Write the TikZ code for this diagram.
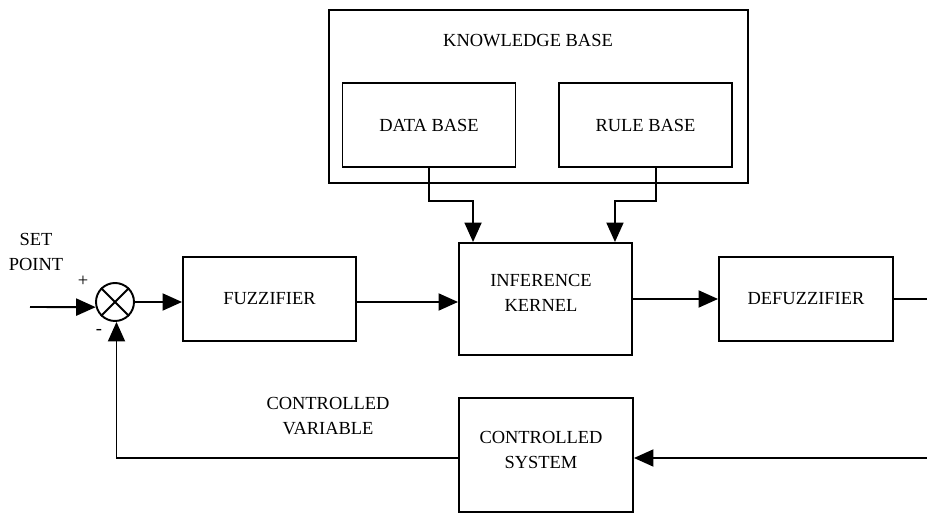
\documentclass[tikz,border=0pt]{standalone}
\usepackage{fontspec}
\setmainfont{Liberation Serif}
\usepackage{tikz}
\usetikzlibrary{arrows.meta,positioning,calc}

\tikzset{
  block/.style={draw,line width=1.1pt,minimum width=3.46cm,minimum height=1.68cm,align=center,inner sep=0pt},
  arr/.style={line width=1.1pt,-{Triangle[length=3.9mm,width=3.4mm]}},
  wire/.style={line width=1.1pt}
}

\begin{document}
\begin{tikzpicture}[font=\fontsize{10.5}{14}\selectfont]
  \useasboundingbox (0,0) rectangle (18.54,10.26);

  % Knowledge base
  \node[block,minimum width=8.38cm,minimum height=3.46cm] (kb) at (10.77,8.33) {};
  \node (kbl) at (10.56,9.44) {KNOWLEDGE BASE};
  \node[block] (data) at (8.58,7.76) {DATA BASE};
  \node[block] (rule) at (12.91,7.76) {RULE BASE};

  % Main loop
  \node[draw,line width=1.1pt,circle,minimum size=0.76cm,inner sep=0pt] (sum) at (2.30,4.22) {};
  \draw[line width=1.1pt] (sum.45) -- (sum.225) (sum.135) -- (sum.315);
  \node[block] (fuzz) at (5.39,4.28) {FUZZIFIER};
  \node[block,minimum height=2.24cm] (infer) at (10.91,4.28) {};
  \node (inftxt) at (10.82,4.40) [align=center] {INFERENCE\\KERNEL};
  \node[block,minimum width=3.48cm] (defuzz) at (16.12,4.28) {DEFUZZIFIER};
  \node[block,minimum width=3.48cm,minimum height=2.28cm] (plant) at (10.92,1.16) {};
  \node (planttxt) at (10.82,1.26) [align=center] {CONTROLLED\\SYSTEM};

  % Labels
  \node[align=center] (setp) at (0.72,5.22) {SET\\POINT};
  \node (plus) at (1.66,4.64) {+};
  \node (minus) at (1.98,3.62) {-};
  \node[align=center] (cvar) at (6.56,1.94) {CONTROLLED\\VARIABLE};

  % Free ends
  \coordinate (in) at (0.6,4.12);
  \coordinate (out) at (18.54,4.30);
  \coordinate (fb) at (18.54,1.10);

  % Connectors
  \draw[arr] (in) -- (sum.195);
  \draw[arr] (sum.east) -- (sum.east -| fuzz.west);
  \draw[arr] (fuzz.east |- sum.east) -- (sum.east -| infer.west);
  \draw[arr] (infer.east) -- (defuzz.west);
  \draw[wire] (defuzz.east) -- (defuzz.east -| out);
  \draw[arr] (data.south) -- ++(0,-0.66) -| ([xshift=0.3cm]infer.north west);
  \draw[arr] ([xshift=0.21cm]rule.south) -- ++(0,-0.66) -| ([xshift=-0.36cm]infer.north east);
  \draw[arr] (fb) -- (fb -| plant.east);
  \draw[arr] (fb -| plant.west) -| ([xshift=0.03cm]sum.south);
\end{tikzpicture}
\end{document}
